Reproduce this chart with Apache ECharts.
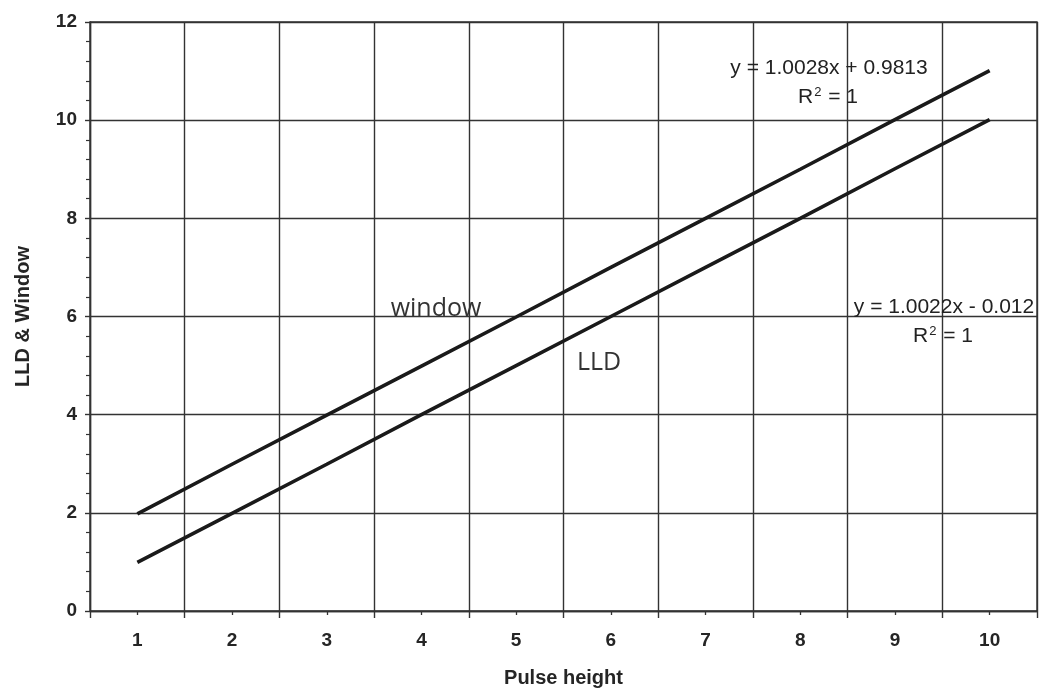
<!DOCTYPE html>
<html>
<head>
<meta charset="utf-8">
<script src="https://cdn.jsdelivr.net/npm/echarts@6/dist/echarts.min.js"></script>
<style>
  html, body { margin: 0; padding: 0; background: #fff; }
  #chart { width: 1040px; height: 694px; }
</style>
</head>
<body>
<div id="chart"></div>
<script>
// Pulse height categories and measured LLD / window settings
const pulseHeight = ['1', '2', '3', '4', '5', '6', '7', '8', '9', '10'];
const windowValues = [1.98, 2.99, 3.99, 4.99, 5.99, 7.00, 8.00, 9.00, 10.01, 11.01];
const lldValues = [0.99, 1.99, 2.99, 4.00, 5.00, 6.00, 7.00, 8.00, 9.01, 10.01];
const yTicks = { min: 0, max: 12, interval: 2 };

const chart = echarts.init(document.getElementById('chart'), null, { renderer: 'canvas' });
const ink = '#1a1a1a';
const gridInk = '#333333';
const sans = '"Liberation Sans", Arial, sans-serif';
const labelFont = { fontFamily: sans, fontSize: 19, fontWeight: 'bold', color: '#252525' };
const noteFont = '21px ' + sans;
const supFont = '13px ' + sans;

function rSquared(x, y) {
  return {
    type: 'text', x: x, y: y, z: 10,
    style: {
      align: 'center', verticalAlign: 'middle',
      rich: {
        b: { font: noteFont, fill: '#222' },
        s: { font: supFont, fill: '#222', verticalAlign: 'top', padding: [0, 1, 10, 1] }
      },
      text: '{b|R}{s|2}{b| = 1}'
    }
  };
}

chart.setOption({
  backgroundColor: '#ffffff',
  animation: false,
  grid: { left: 90, right: 3, top: 22, bottom: 83, show: true, borderColor: gridInk, borderWidth: 1.4 },
  xAxis: [
    {
      type: 'category',
      data: pulseHeight,
      boundaryGap: true,
      name: 'Pulse height',
      nameLocation: 'middle',
      nameGap: 57,
      nameTextStyle: Object.assign({}, labelFont, { fontSize: 20 }),
      axisLine: { lineStyle: { color: gridInk, width: 1.4 } },
      axisTick: { show: true, alignWithLabel: false, length: 7, lineStyle: { color: gridInk, width: 1.4 } },
      axisLabel: Object.assign({}, labelFont, { margin: 20 }),
      splitLine: { show: true, lineStyle: { color: gridInk, width: 1.4 } }
    },
    {
      // short ticks under each category centre
      type: 'category',
      data: pulseHeight,
      position: 'bottom',
      boundaryGap: true,
      axisLine: { show: false },
      axisTick: { show: true, alignWithLabel: true, length: 4, lineStyle: { color: gridInk, width: 1.3 } },
      axisLabel: { show: false },
      splitLine: { show: false }
    }
  ],
  yAxis: {
    type: 'value',
    min: yTicks.min,
    max: yTicks.max,
    interval: yTicks.interval,
    name: 'LLD & Window',
    nameLocation: 'middle',
    nameGap: 57,
    nameRotate: 90,
    nameTextStyle: Object.assign({}, labelFont, { fontSize: 20 }),
    axisLine: { show: true, lineStyle: { color: gridInk, width: 1.4 } },
    axisTick: { show: true, length: 5, lineStyle: { color: gridInk, width: 1.4 } },
    minorTick: { show: true, splitNumber: 5, length: 4, lineStyle: { color: gridInk, width: 1.2 } },
    axisLabel: Object.assign({}, labelFont, { margin: 13 }),
    splitLine: { show: true, lineStyle: { color: gridInk, width: 1.4 } }
  },
  series: [
    {
      name: 'window',
      type: 'line',
      data: windowValues,
      symbol: 'none',
      lineStyle: { color: ink, width: 3.6 },
      z: 5
    },
    {
      name: 'LLD',
      type: 'line',
      data: lldValues,
      symbol: 'none',
      lineStyle: { color: ink, width: 3.6 },
      z: 5
    }
  ],
  graphic: [
    { type: 'text', x: 829, y: 68, z: 10, style: { text: 'y = 1.0028x + 0.9813', font: noteFont, fill: '#222', align: 'center', verticalAlign: 'middle' } },
    rSquared(828, 97),
    { type: 'text', x: 944, y: 307, z: 10, style: { text: 'y = 1.0022x - 0.012', font: noteFont, fill: '#222', align: 'center', verticalAlign: 'middle' } },
    rSquared(943, 336),
    { type: 'text', x: 436, y: 309, z: 10, style: { text: 'window', font: '25px "Open Sans", "Noto Sans", sans-serif', fill: '#333', align: 'center', verticalAlign: 'middle' } },
    { type: 'text', x: 599, y: 363, z: 10, style: { text: 'LLD', font: '25px "Open Sans", "Noto Sans", sans-serif', fill: '#333', align: 'center', verticalAlign: 'middle' } }
  ]
});
</script>
</body>
</html>
